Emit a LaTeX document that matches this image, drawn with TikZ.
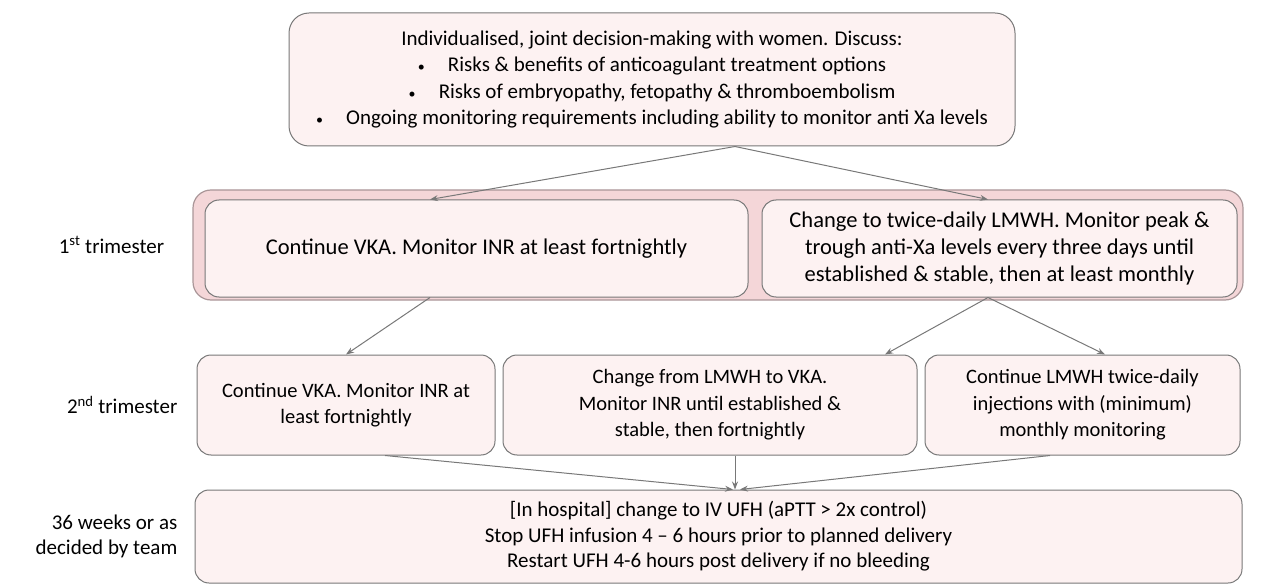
\documentclass[tikz,border=0pt]{standalone}
\usepackage{fontspec}
\setmainfont{Carlito}
\usetikzlibrary{arrows.meta,positioning,backgrounds}

\definecolor{boxpink}{RGB}{253,242,242}
\definecolor{bandpink}{RGB}{244,214,216}
\definecolor{edgegrey}{RGB}{120,120,120}
\definecolor{bandedge}{RGB}{170,150,152}

\newcommand{\riskdot}{{\fontsize{14}{14}\selectfont•}\hspace{1.1em}}

\begin{document}
\begin{tikzpicture}
[x=1pt, y=-1pt,
stage/.style={rectangle, rounded corners=14pt, draw=edgegrey, line width=1pt, fill=boxpink, inner sep=0pt, align=center, font=\fontsize{20.5}{26.5}\selectfont},
band/.style={rectangle, rounded corners=18pt, draw=bandedge, line width=1.2pt, fill=bandpink, inner sep=0pt},
when/.style={align=right, inner sep=0pt, font=\fontsize{21}{25}\selectfont},
link/.style={->, draw=edgegrey, line width=1pt},
>/.tip={Stealth[length=8pt, width=6pt]}]

	\useasboundingbox (0,0) rectangle (1268,585);

	\node (discuss) at (652,79.5) [stage, rounded corners=20pt, minimum width=726, minimum height=133, font=\fontsize{21}{26.5}\selectfont]
		{Individualised, joint decision-making with women. Discuss:\\
		 \riskdot Risks \& benefits of anticoagulant treatment options\\
		 \riskdot Risks of embryopathy, fetopathy \& thromboembolism\\
		 \riskdot Ongoing monitoring requirements including ability to monitor anti Xa levels};

	\begin{scope}[on background layer]
	\node (first) at (718,245) [band, minimum width=1050, minimum height=110]{};
	\end{scope}

	\node (vkaone) at (476.5,248.5) [stage, minimum width=543, minimum height=97, font=\fontsize{22.5}{27}\selectfont]
		{Continue VKA. Monitor INR at least fortnightly};
	\node (lmwhone) at (999.5,248.5) [stage, minimum width=475, minimum height=97, font=\fontsize{22.5}{27}\selectfont]
		{Change to twice-daily LMWH. Monitor peak \&\\
		 trough anti-Xa levels every three days until\\
		 established \& stable, then at least monthly};

	\node (vkatwo) at (346,405) [stage, minimum width=298, minimum height=100]
		{Continue VKA. Monitor INR at\\ least fortnightly};
	\node (swap) at (710,405) [stage, minimum width=414, minimum height=100]
		{Change from LMWH to VKA.\\ Monitor INR until established \&\\ stable, then fortnightly};
	\node (lmwhtwo) at (1082.5,405) [stage, minimum width=315, minimum height=100]
		{Continue LMWH twice-daily\\ injections with (minimum)\\ monthly monitoring};

	\node (ufh) at (718.5,536.5) [stage, minimum width=1047, minimum height=93, font=\fontsize{21}{25.5}\selectfont]
		{[In hospital] change to IV UFH (aPTT > 2x control)\\
		 Stop UFH infusion 4 – 6 hours prior to planned delivery\\
		 Restart UFH 4-6 hours post delivery if no bleeding};

	\node (labone) [when, left=28pt of first] {1\textsuperscript{st} trimester};
	\node (labtwo) [when, left=19pt of vkatwo] {2\textsuperscript{nd} trimester};
	\node (labdel) [when, left=17pt of ufh] {36 weeks or as\\ decided by team};

	\coordinate (discussout) at ([xshift=83pt]discuss.south);
	\coordinate (vkaonein) at ([xshift=-46.5pt]vkaone.north);
	\coordinate (vkaoneout) at ([xshift=-46.5pt]vkaone.south);
	\coordinate (lmwhonein) at ([xshift=-11.5pt]lmwhone.north);
	\coordinate (lmwhoneout) at ([xshift=-11.5pt]lmwhone.south);
	\coordinate (swapin) at ([xshift=175pt]swap.north);
	\coordinate (lmwhtwoin) at ([xshift=22.5pt]lmwhtwo.north);
	\coordinate (vkatwoout) at ([xshift=39pt]vkatwo.south);
	\coordinate (swapout) at ([xshift=25pt]swap.south);
	\coordinate (lmwhtwoout) at ([xshift=-32.5pt]lmwhtwo.south);
	\coordinate (ufhinl) at ([xshift=14.5pt]ufh.north);
	\coordinate (ufhin) at ([xshift=16.5pt]ufh.north);
	\coordinate (ufhinr) at ([xshift=21.5pt]ufh.north);

	\draw[link] (discussout) -- (vkaonein);
	\draw[link] (discussout) -- (lmwhonein);
	\draw[link] (vkaoneout) -- (vkatwo.north);
	\draw[link] (lmwhoneout) -- (swapin);
	\draw[link] (lmwhoneout) -- (lmwhtwoin);
	\draw[link] (vkatwoout) -- (ufhinl);
	\draw[link] (swapout) -- (ufhin);
	\draw[link] (lmwhtwoout) -- (ufhinr);

\end{tikzpicture}
\end{document}
